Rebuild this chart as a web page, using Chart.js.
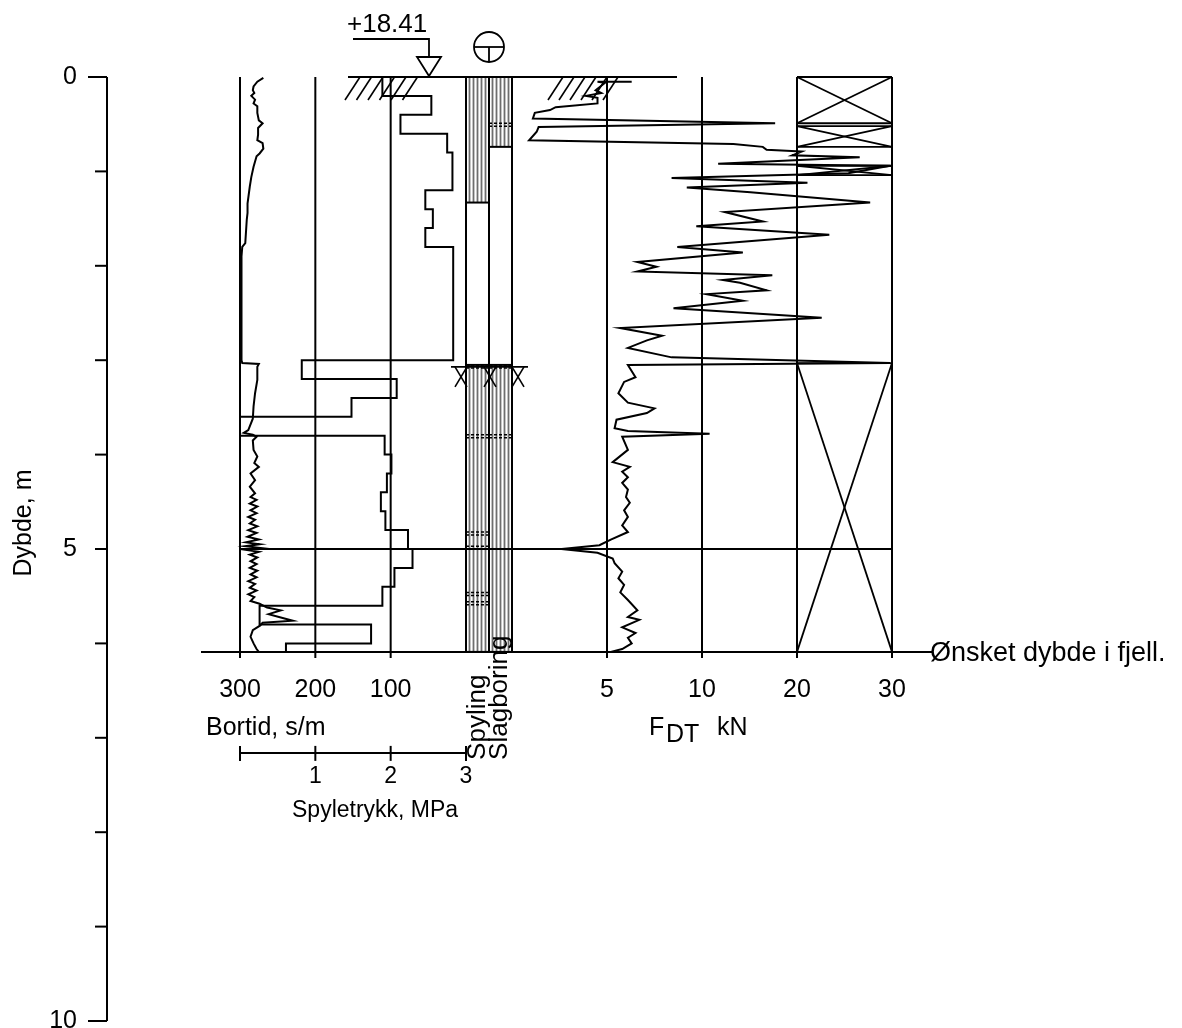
<!DOCTYPE html>
<html>
<head>
<meta charset="utf-8">
<script src="https://cdn.jsdelivr.net/npm/chart.js@4.4.1/dist/chart.umd.min.js"></script>
<style>
  body { margin: 0; background: #fff; }
  #wrap { width: 1182px; height: 1028px; }
</style>
</head>
<body>
<div id="wrap"><canvas id="c" width="1182" height="1028"></canvas></div>
<script>
// --- Bortid (s/m) mot dybde (m)
const bortDepth = [0.01, 0.05, 0.10, 0.14, 0.17, 0.20, 0.24, 0.28, 0.31, 0.38, 0.46, 0.49, 0.54, 0.61, 0.67, 0.70,
  0.76, 0.81, 0.84, 0.95, 1.06, 1.16, 1.34, 1.44, 1.51, 1.76, 1.80, 1.90, 2.50, 3.00, 3.03, 3.04,
  3.07, 3.21, 3.35, 3.49, 3.62, 3.74, 3.77, 3.79, 3.81, 3.85, 3.95, 4.02, 4.09, 4.13, 4.20, 4.27,
  4.34, 4.41, 4.45, 4.48, 4.52, 4.55, 4.59, 4.62, 4.66, 4.69, 4.73, 4.76, 4.80, 4.83, 4.87, 4.90,
  4.93, 4.95, 4.97, 4.99, 5.01, 5.03, 5.06, 5.09, 5.13, 5.16, 5.20, 5.23, 5.27, 5.30, 5.34, 5.37,
  5.41, 5.44, 5.48, 5.51, 5.55, 5.58, 5.62, 5.65, 5.69, 5.76, 5.78, 5.81, 5.86, 5.93, 6.00, 6.06, 6.09];
const bortTime = [269, 277, 282, 283, 281, 285, 280, 282, 277, 277, 275, 270, 276, 276, 277, 270,
  269, 274, 278, 282, 285, 287, 290, 290, 291, 293, 297, 298, 298, 298, 297, 275,
  277, 277, 280, 282, 283, 289, 295, 283, 278, 283, 282, 277, 281, 275, 286, 280,
  287, 280, 286, 278, 287, 277, 286, 278, 289, 280, 287, 277, 289, 278, 290, 275,
  292, 274, 293, 272, 292, 275, 287, 277, 286, 278, 287, 277, 286, 278, 289, 280,
  287, 278, 289, 281, 286, 274, 264, 246, 262, 230, 270, 273, 283, 286, 282, 278, 275];

// --- Spyletrykk (MPa), trappekurve: verdi gjelder fra dybden og ned til neste
const spylDepth = [0, 0.2, 0.4, 0.6, 0.8, 1.2, 1.4, 1.6, 1.8, 3.0, 3.2, 3.4, 3.6, 3.8, 4.0, 4.2, 4.4,
  4.6, 4.8, 5.0, 5.2, 5.4, 5.6, 5.8, 6.0, 6.09];
const spylPress = [1.89, 2.54, 2.13, 2.75, 2.82, 2.46, 2.56, 2.46, 2.83, 0.82, 2.08, 1.48, 0.0, 1.92, 2.01, 1.95, 1.87,
  1.93, 2.23, 2.29, 2.05, 1.89, 0.26, 1.74, 0.61, 0.61];

// --- Matekraft F_DT (kN)
const fdtDepth = [0.05, 0.05, 0.06, 0.14, 0.17, 0.20, 0.22, 0.28, 0.32, 0.35, 0.38, 0.44, 0.49, 0.53, 0.58, 0.67,
  0.71, 0.74, 0.77, 0.79, 0.83, 0.85, 0.92, 0.94, 1.02, 1.07, 1.12, 1.17, 1.22, 1.33, 1.43, 1.53,
  1.58, 1.67, 1.80, 1.86, 1.96, 2.01, 2.06, 2.10, 2.15, 2.18, 2.26, 2.30, 2.37, 2.45, 2.55, 2.66,
  2.74, 2.79, 2.87, 2.97, 3.03, 3.05, 3.18, 3.23, 3.35, 3.45, 3.51, 3.56, 3.63, 3.72, 3.75, 3.78,
  3.81, 3.95, 4.08, 4.13, 4.18, 4.24, 4.30, 4.37, 4.45, 4.51, 4.59, 4.66, 4.75, 4.82, 4.90, 4.96,
  5.00, 5.04, 5.10, 5.15, 5.24, 5.31, 5.38, 5.46, 5.54, 5.65, 5.72, 5.75, 5.83, 5.89, 5.94, 6.00,
  6.06, 6.09];
const fdtForce = [6.3, 4.5, 4.9, 4.4, 4.7, 3.9, 4.5, 4.5, 2.3, 2.0, 1.2, 1.1, 17.7, 1.4, 1.3, 0.9,
  13.3, 16.4, 16.8, 20.5, 19.5, 26.6, 11.7, 29.8, 25.4, 8.4, 21.1, 9.2, 15.1, 27.7, 12.4, 16.4,
  9.7, 23.4, 8.7, 14.3, 6.6, 7.6, 6.6, 17.4, 12.2, 14.0, 16.8, 10.5, 14.3, 8.5, 22.6, 5.7,
  7.9, 7.1, 6.1, 8.4, 29.8, 6.1, 6.5, 5.9, 5.6, 6.1, 7.5, 7.1, 5.5, 5.4, 6.1, 10.8,
  5.8, 6.1, 5.3, 6.2, 5.8, 6.1, 5.8, 6.1, 6.0, 6.2, 5.9, 6.1, 5.8, 6.1, 5.2, 4.6,
  2.6, 4.5, 5.3, 5.4, 5.8, 5.6, 5.9, 5.7, 6.1, 6.6, 6.1, 6.7, 5.8, 6.5, 6.1, 6.3,
  5.8, 5.2];

// --- Soner og markeringer (dybde i m)
const boxSpans = [[0, 0.49], [0.52, 0.74], [0.94, 1.04], [3.03, 6.09]];
const spylingHatch = [[0, 1.33], [3.05, 6.09]];
const slagHatch = [[0, 0.74], [3.05, 6.09]];
const spylingMarks = [3.05, 3.79, 4.82, 4.97, 5.46, 5.56];
const slagMarks = [0.49, 3.05, 3.79];
const rockDepth = 3.05;
const endDepth = 6.09;

// --- Akser
const depthTicks = [0, 1, 2, 3, 4, 5, 6, 7, 8, 9, 10];
const depthLabels = [0, 5, 10];
const bortTicks = [300, 200, 100];
const pressTicks = [0, 1, 2, 3];
const pressLabels = [1, 2, 3];
const fdtTicks = [5, 10, 20, 30];
const levelText = '+18.41';

const AREA = { left: 107, top: 77, right: 1100, bottom: 1021 };
const FONT = '"Liberation Sans", Arial, sans-serif';
const LW = 2;

// min/max for an x axis so that v1 lands at pixel p1 and v2 at pixel p2
function span(v1, p1, v2, p2) {
  const k = (v2 - v1) / (p2 - p1);
  const a = v1 + (AREA.left - p1) * k;
  const b = v1 + (AREA.right - p1) * k;
  return { min: Math.min(a, b), max: Math.max(a, b), reverse: a > b };
}

// F_DT axis: linear 0-10, then half scale 10-30
class FdtScale extends Chart.LinearScale {
  getPixelForValue(v) {
    return super.getPixelForValue(v > 10 ? 10 + (v - 10) / 2 : v);
  }
}
FdtScale.id = 'fdt';
Chart.register(FdtScale);

function pts(xs, ys) {
  return xs.map((x, i) => ({ x: x, y: ys[i] }));
}

function line(ctx, x1, y1, x2, y2) {
  ctx.beginPath();
  ctx.moveTo(x1, y1);
  ctx.lineTo(x2, y2);
  ctx.stroke();
}

const sondering = {
  id: 'sondering',
  beforeDatasetsDraw(chart) {
    const { ctx } = chart;
    const { y, xb, xs, xf } = chart.scales;
    const y0 = y.getPixelForValue(0);
    const yEnd = y.getPixelForValue(endDepth);
    const colL = xs.getPixelForValue(3);
    const colR = xf.getPixelForValue(0);
    const colM = (colL + colR) / 2;

    ctx.save();
    // hatch columns
    ctx.strokeStyle = '#6e6e6e';
    ctx.lineWidth = 1.8;
    const hatch = (spans, l, r) => {
      spans.forEach(s => {
        const t = y.getPixelForValue(s[0]), b = y.getPixelForValue(s[1]);
        for (let x = l + 3.5; x < r - 1; x += 4) line(ctx, x, t, x, b);
      });
    };
    hatch(spylingHatch, colL, colM);
    hatch(slagHatch, colM, colR);

    ctx.strokeStyle = '#000';
    ctx.lineWidth = LW;
    const closeLines = (spans, l, r) => {
      spans.forEach(s => {
        line(ctx, l, y.getPixelForValue(s[0]), r, y.getPixelForValue(s[0]));
        line(ctx, l, y.getPixelForValue(s[1]), r, y.getPixelForValue(s[1]));
      });
    };
    closeLines(spylingHatch, colL, colM);
    closeLines(slagHatch, colM, colR);

    // dashed double marks
    ctx.setLineDash([3, 2]);
    ctx.lineWidth = 1.5;
    const marks = (ds, l, r) => ds.forEach(d => {
      const p = y.getPixelForValue(d);
      line(ctx, l, p, r, p);
      line(ctx, l, p + 3, r, p + 3);
    });
    marks(spylingMarks, colL, colM);
    marks(slagMarks, colM, colR);
    ctx.setLineDash([]);

    // column borders
    ctx.lineWidth = LW;
    [colL, colM, colR].forEach(x => line(ctx, x, y0, x, yEnd));

    // vertical grid lines with ticks below
    bortTicks.forEach(v => line(ctx, xb.getPixelForValue(v), y0, xb.getPixelForValue(v), yEnd + 6));
    fdtTicks.forEach(v => line(ctx, xf.getPixelForValue(v), y0, xf.getPixelForValue(v), yEnd + 6));

    // depth 5 line
    line(ctx, xb.getPixelForValue(300), y.getPixelForValue(5), xf.getPixelForValue(30), y.getPixelForValue(5));

    // boxes with crosses in 20-30 column
    const bl = xf.getPixelForValue(20), br = xf.getPixelForValue(30);
    ctx.lineWidth = 1.8;
    boxSpans.forEach(s => {
      const t = y.getPixelForValue(s[0]), b = y.getPixelForValue(s[1]);
      line(ctx, bl, t, br, t);
      line(ctx, bl, b, br, b);
      line(ctx, bl, t, br, b);
      line(ctx, br, t, bl, b);
    });

    // bottom line (end of sounding)
    ctx.lineWidth = LW;
    line(ctx, 201, yEnd, 932, yEnd);

    // ground surface line and hatching
    line(ctx, 348, y0, 677, y0);
    ctx.lineWidth = 1.6;
    for (let i = 0; i < 6; i++) line(ctx, 345 + 11.5 * i, y0 + 23, 360 + 11.5 * i, y0);
    for (let i = 0; i < 6; i++) line(ctx, 548 + 11 * i, y0 + 23, 563 + 11 * i, y0);

    // rock marks (X) at top of hatched part
    const ry = y.getPixelForValue(rockDepth) + 2;
    line(ctx, colL - 15, ry, colR + 16, ry);
    [colL - 5, colM + 1, colR + 6].forEach(cx => {
      line(ctx, cx - 6, ry, cx + 6, ry + 20);
      line(ctx, cx + 6, ry, cx - 6, ry + 20);
    });

    // depth axis
    ctx.lineWidth = LW;
    const ax = AREA.left;
    line(ctx, ax, y0, ax, y.getPixelForValue(10));
    depthTicks.forEach(d => {
      const p = y.getPixelForValue(d);
      line(ctx, (d === 0 || d === 10) ? ax - 19 : ax - 12, p, ax, p);
    });

    // Spyletrykk axis
    const sy = yEnd + 101;
    line(ctx, xs.getPixelForValue(0), sy, xs.getPixelForValue(3), sy);
    pressTicks.forEach(v => line(ctx, xs.getPixelForValue(v), sy - 7, xs.getPixelForValue(v), sy + 8));

    // level symbol
    ctx.lineWidth = 1.8;
    ctx.beginPath();
    ctx.moveTo(353, 39); ctx.lineTo(429, 39); ctx.lineTo(429, 57);
    ctx.stroke();
    ctx.beginPath();
    ctx.moveTo(417, 57); ctx.lineTo(441, 57); ctx.lineTo(429, y0 - 1); ctx.closePath();
    ctx.stroke();
    // total sounding symbol
    ctx.beginPath();
    ctx.arc(colM, 47, 15, 0, Math.PI * 2);
    ctx.stroke();
    line(ctx, colM - 15, 47, colM + 15, 47);
    line(ctx, colM, 47, colM, 62);
    ctx.restore();
  },
  afterDraw(chart) {
    const { ctx } = chart;
    const { y, xb, xs, xf } = chart.scales;
    const yEnd = y.getPixelForValue(endDepth);
    ctx.save();
    ctx.fillStyle = '#000';
    ctx.font = '25px ' + FONT;
    ctx.textAlign = 'center';
    ctx.textBaseline = 'alphabetic';
    bortTicks.forEach(v => ctx.fillText(String(v), xb.getPixelForValue(v), yEnd + 45));
    fdtTicks.forEach(v => ctx.fillText(String(v), xf.getPixelForValue(v), yEnd + 45));

    ctx.textAlign = 'right';
    ctx.textBaseline = 'middle';
    depthLabels.forEach(d => ctx.fillText(String(d), 77, y.getPixelForValue(d)));

    ctx.textBaseline = 'alphabetic';
    ctx.textAlign = 'left';
    ctx.fillText('Bortid, s/m', 206, yEnd + 83);
    ctx.fillText('F', 649, yEnd + 83);
    ctx.fillText('DT', 666, yEnd + 90);
    ctx.fillText('kN', 717, yEnd + 83);
    ctx.font = '27px ' + FONT;
    ctx.fillText('Ønsket dybde i fjell.', 930, yEnd + 9);
    ctx.font = '26px ' + FONT;
    ctx.fillText(levelText, 347, 32);

    ctx.font = '23px ' + FONT;
    ctx.textAlign = 'center';
    pressLabels.forEach(v => ctx.fillText(String(v), xs.getPixelForValue(v), yEnd + 131));
    ctx.textAlign = 'left';
    ctx.fillText('Spyletrykk, MPa', 292, yEnd + 165);

    // rotated texts
    ctx.font = '26px ' + FONT;
    const rot = (text, x, yy) => {
      ctx.save();
      ctx.translate(x, yy);
      ctx.rotate(-Math.PI / 2);
      ctx.fillText(text, 0, 0);
      ctx.restore();
    };
    const colL = xs.getPixelForValue(3), colR = xf.getPixelForValue(0);
    rot('Spyling', colL + 19, yEnd + 108);
    rot('Slagboring', (colL + colR) / 2 + 18, yEnd + 108);
    ctx.font = '25px ' + FONT;
    ctx.textAlign = 'center';
    rot('Dybde, m', 31, 523);
    ctx.restore();
  }
};

const bs = span(300, 240, 0, 466);
const ss = span(0, 240, 3, 466);
const fs = span(0, 512, 10, 702);

new Chart(document.getElementById('c'), {
  type: 'scatter',
  data: {
    datasets: [
      { data: pts(bortTime, bortDepth), xAxisID: 'xb', yAxisID: 'y' },
      { data: pts(spylPress, spylDepth), xAxisID: 'xs', yAxisID: 'y', stepped: 'after' },
      { data: pts(fdtForce, fdtDepth), xAxisID: 'xf', yAxisID: 'y' }
    ].map(d => Object.assign({
      showLine: true, borderColor: '#000', borderWidth: LW, pointRadius: 0, tension: 0, fill: false
    }, d))
  },
  options: {
    responsive: false,
    animation: false,
    events: [],
    layout: { padding: { left: AREA.left, top: AREA.top, right: 1182 - AREA.right, bottom: 1028 - AREA.bottom } },
    plugins: { legend: { display: false }, tooltip: { enabled: false } },
    scales: {
      y: { type: 'linear', axis: 'y', reverse: true, min: 0, max: 10, display: false },
      xb: { type: 'linear', axis: 'x', min: bs.min, max: bs.max, reverse: bs.reverse, display: false },
      xs: { type: 'linear', axis: 'x', min: ss.min, max: ss.max, reverse: ss.reverse, display: false },
      xf: { type: 'fdt', axis: 'x', min: fs.min, max: fs.max, reverse: fs.reverse, display: false }
    }
  },
  plugins: [sondering]
});
</script>
</body>
</html>
